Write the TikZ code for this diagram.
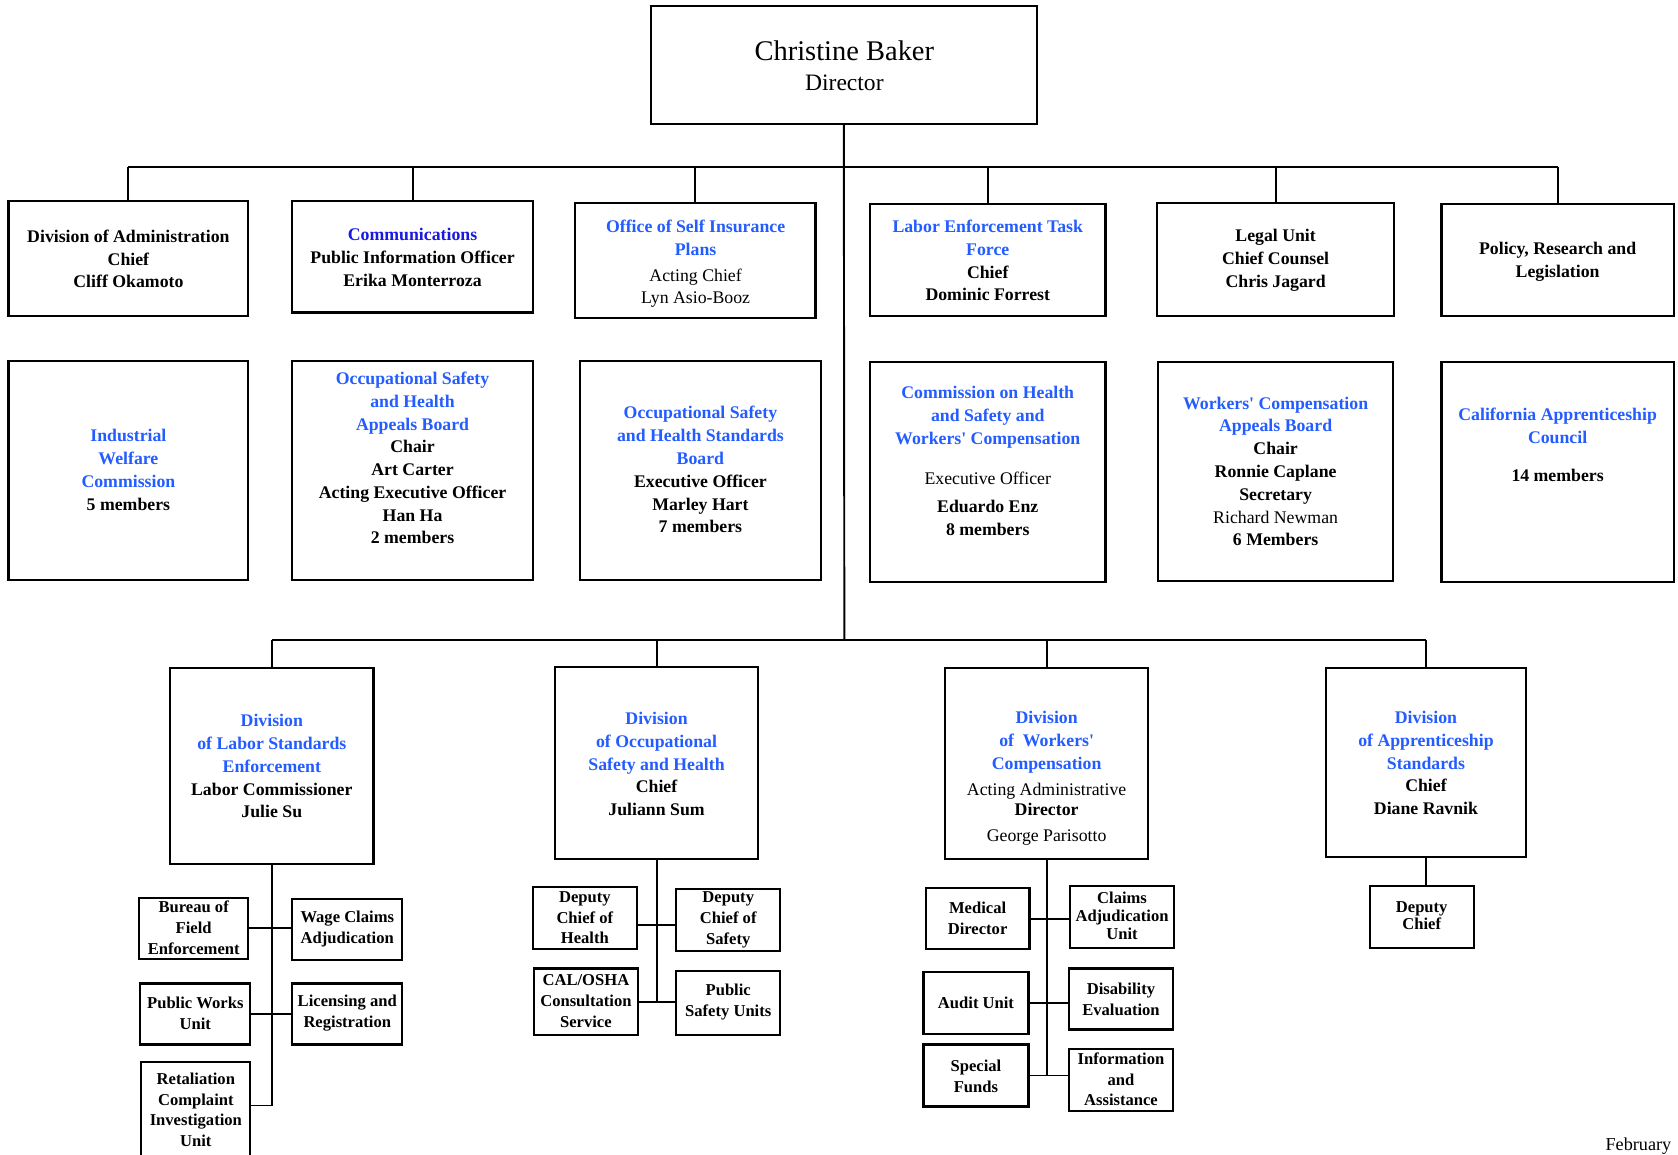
\documentclass[tikz,border=0pt]{standalone}
\usepackage{fontspec}
\setmainfont{Liberation Serif}
\definecolor{tb}{RGB}{35,92,255}
\definecolor{cb}{RGB}{25,25,225}
\newcommand{\blu}[1]{\textcolor{tb}{#1}}
\newcommand{\cblu}[1]{\textcolor{cb}{#1}}
\newcommand{\reg}[1]{{\mdseries #1}}
\newcommand{\bx}[5]{\node[box, minimum width={(#4)-(#2)}, minimum height={(#5)-(#3)}] (#1) at ({((#2)+(#4))/2},{((#3)+(#5))/2}) {};}
\tikzset{
  box/.style={draw, line width=2pt, inner sep=0pt, fill=none},
  txt/.style={align=center, inner sep=0pt, font=\fontsize{16.6}{21.3}\selectfont\bfseries},
  sml/.style={align=center, inner sep=0pt, font=\fontsize{15.5}{19.5}\selectfont\bfseries},
  conn/.style={line width=1.8pt}
}
\begin{document}
\begin{tikzpicture}[x=1pt,y=-1pt]
\useasboundingbox[fill=white] (0,0) rectangle (1568,1079);
% top
\bx{dir}{608}{6}{969}{116}
\node[inner sep=0pt, font=\fontsize{26.6}{30}\selectfont] (dirname) at (789,47) {Christine Baker};
\node[inner sep=0pt, font=\fontsize{22}{26}\selectfont] (dirtitle) at (789,77) {Director};
% row 1
\bx{admin}{8}{188}{232}{295}
\bx{comm}{273}{188}{498}{292}
\bx{osip}{537}{190}{762}{297}
\bx{letf}{813}{191}{1033}{295}
\bx{legal}{1081}{190}{1303}{295}
\bx{policy}{1347}{191}{1564}{295}
\node[txt] (admint) at (120,242) {Division of Administration\\Chief\\Cliff Okamoto};
\node[txt] (commt) at (385.5,240.5) {\cblu{Communications}\\Public Information Officer\\Erika Monterroza};
\node[txt] (osipt) at (650,246.5) {\blu{Office of Self Insurance}\\\blu{Plans}\\[3pt]\reg{Acting Chief}\\\reg{Lyn Asio-Booz}};
\node[txt] (letft) at (923,243.5) {\blu{Labor Enforcement Task}\\\blu{Force}\\Chief\\Dominic Forrest};
\node[txt] (legalt) at (1192,243) {Legal Unit\\Chief Counsel\\Chris Jagard};
\node[txt] (policyt) at (1455.5,244.5) {Policy, Research and\\Legislation};
% row 2
\bx{iwc}{8}{337}{232}{542}
\bx{oshab}{273}{337}{498}{542}
\bx{oshsb}{542}{337}{767}{542}
\bx{chswc}{813}{338}{1033}{544}
\bx{wcab}{1082}{338}{1302}{543}
\bx{cac}{1347}{338}{1564}{544}
\node[txt] (iwct) at (120,439) {\blu{Industrial}\\\blu{Welfare}\\\blu{Commission}\\5 members};
\node[txt] (oshabt) at (385.5,428) {\blu{Occupational Safety}\\\blu{and Health}\\\blu{Appeals Board}\\Chair\\Art Carter\\Acting Executive Officer\\Han Ha\\2 members};
\node[txt] (oshsbt) at (654.5,439) {\blu{Occupational Safety}\\\blu{and Health Standards}\\\blu{Board}\\Executive Officer\\Marley Hart\\7 members};
\node[txt] (chswct) at (923,430.5) {\blu{Commission on Health}\\\blu{and Safety and}\\\blu{Workers\textquotesingle{} Compensation}\\[16pt]\reg{Executive Officer}\\[5pt]Eduardo Enz\\8 members};
\node[txt] (wcabt) at (1192,440.5) {\blu{Workers\textquotesingle{} Compensation}\\\blu{Appeals Board}\\Chair\\Ronnie Caplane\\Secretary\\\reg{Richard Newman}\\6 Members};
\node[txt] (cact) at (1455.5,415.5) {\blu{California Apprenticeship}\\\blu{Council}\\[14pt]14 members};
% row 3
\bx{dlse}{159}{624}{349}{807}
\bx{dosh}{519}{623}{708}{803}
\bx{dwc}{883}{624}{1073}{803}
\bx{das}{1239}{624}{1426}{801}
\node[txt] (dlset) at (254,716) {\blu{Division}\\\blu{of Labor Standards}\\\blu{Enforcement}\\Labor Commissioner\\Julie Su};
\node[txt] (dosht) at (613.5,714) {\blu{Division}\\\blu{of Occupational}\\\blu{Safety and Health}\\Chief\\Juliann Sum};
\node[txt] (dwct) at (978,727.5) {\blu{Division}\\\blu{of~ Workers\textquotesingle}\\\blu{Compensation}\\[3pt]\reg{Acting Administrative}\\[-2pt]Director\\[3pt]\reg{George Parisotto}};
\node[txt] (dast) at (1332.5,713) {\blu{Division}\\\blu{of Apprenticeship}\\\blu{Standards}\\Chief\\Diane Ravnik};
% DLSE units
\bx{bfe}{130}{839}{232}{896}
\bx{wca}{273}{840}{376}{897}
\bx{pwu}{131}{919}{234}{976}
\bx{lic}{273}{919}{376}{976}
\bx{rci}{132}{992}{234}{1086}
\node[sml] (bfet) at (181,867) {Bureau of\\Field\\Enforcement};
\node[sml] (wcat) at (324.5,868) {Wage Claims\\Adjudication};
\node[sml] (pwut) at (182.5,947) {Public Works\\Unit};
\node[sml] (lict) at (324.5,947) {Licensing and\\Registration};
\node[sml] (rcit) at (183,1037) {Retaliation\\Complaint\\Investigation\\Unit};
% DOSH units
\bx{dch}{498}{829}{595}{887}
\bx{dcs}{632}{831}{729}{889}
\bx{cal}{499}{905}{596}{967}
\bx{psu}{632}{907}{729}{967}
\node[sml] (dcht) at (546.5,857.5) {Deputy\\Chief of\\Health};
\node[sml] (dcst) at (680.5,859.5) {Deputy\\Chief of\\Safety};
\node[sml] (calt) at (547.5,935.5) {CAL/OSHA\\Consultation\\Service};
\node[sml] (psut) at (680.5,936.5) {Public\\Safety Units};
% DWC units
\bx{med}{865}{830}{962}{887}
\bx{cau}{1000}{828}{1097}{886}
\bx{aud}{863}{908}{961}{966}
\bx{dis}{999}{905}{1096}{962}
\bx{spf}{863}{976}{961}{1034}
\bx{ina}{999}{980}{1096}{1038}
\node[sml] (medt) at (913.5,858.5) {Medical\\Director};
\node[sml, font=\fontsize{15.5}{17}\selectfont\bfseries] (caut) at (1048.5,856) {Claims\\Adjudication\\Unit};
\node[sml] (audt) at (912,937) {Audit Unit};
\node[sml] (dist) at (1047.5,933.5) {Disability\\Evaluation};
\node[sml] (spft) at (912,1005.5) {Special\\Funds};
\node[sml] (inat) at (1047.5,1008.5) {Information\\and\\Assistance};
% DAS unit
\bx{dep}{1280}{828}{1377}{886}
\node[sml, font=\fontsize{15.5}{16}\selectfont\bfseries] (dept) at (1328.5,856) {Deputy\\Chief};
% date
\node[inner sep=0pt, anchor=south, font=\fontsize{17}{20}\selectfont] (date) at (1531,1078.5) {February};
% connectors
\coordinate (bar) at (789,156);
\coordinate (bar2) at (789,598);
\draw[conn] (dir.south) -- (bar2);
\draw[conn] (admin.north |- bar) -- (policy.north |- bar);
\foreach \n in {admin,comm,osip,letf,legal,policy} \draw[conn] (\n.north) -- (\n.north |- bar);
\draw[conn] (dlse.north |- bar2) -- (das.north |- bar2);
\foreach \n in {dlse,dosh,dwc,das} \draw[conn] (\n.north) -- (\n.north |- bar2);
% DLSE
\coordinate (rcij) at ([yshift=6pt]rci.east);
\draw[conn] (dlse.south) -- (dlse.south |- rcij) -- (rcij);
\draw[conn] (bfe.east) -- (bfe.east -| wca.west);
\draw[conn] (pwu.east) -- (pwu.east -| lic.west);
% DOSH
\draw[conn] (dosh.south) -- (dosh.south |- cal.east);
\coordinate (dchj) at ([yshift=-6pt]dch.east);
\draw[conn] (dchj) -- (dchj -| dcs.west);
\draw[conn] (cal.east) -- (cal.east -| psu.west);
% DWC
\draw[conn] (dwc.south) -- (dwc.south |- spf.east);
\draw[conn] (med.east) -- (med.east -| cau.west);
\draw[conn] (aud.east) -- (aud.east -| dis.west);
\draw[conn] (spf.east) -- (spf.east -| ina.west);
% DAS
\draw[conn] (das.south) -- (das.south |- dep.north);
\end{tikzpicture}
\end{document}
